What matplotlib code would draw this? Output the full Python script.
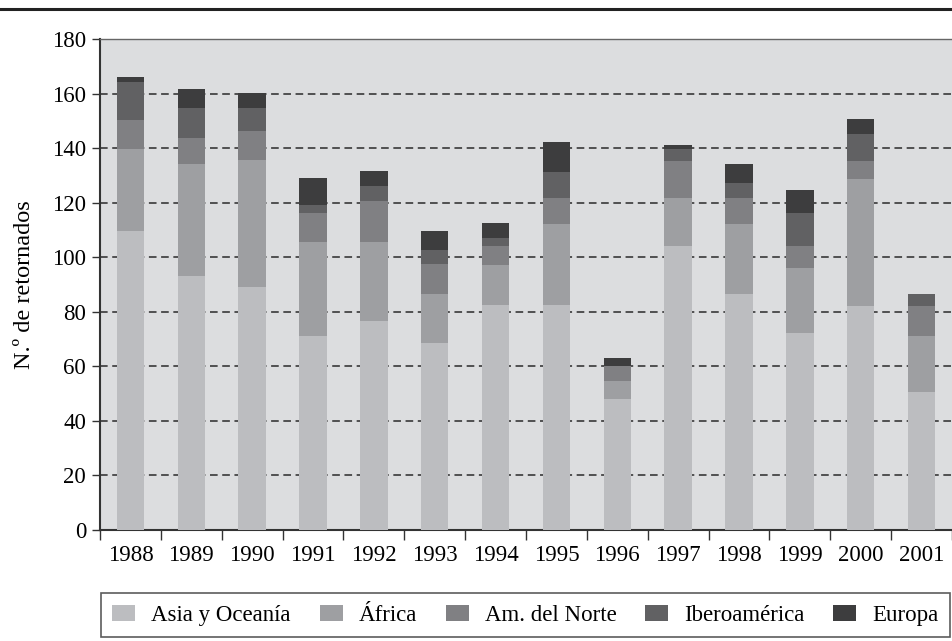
import matplotlib
matplotlib.use('Agg')
import matplotlib.pyplot as plt
import numpy as np
from matplotlib.lines import Line2D

plt.rcParams['font.family'] = ['Liberation Serif', 'DejaVu Serif']

years = ['1988', '1989', '1990', '1991', '1992', '1993', '1994',
         '1995', '1996', '1997', '1998', '1999', '2000', '2001']
series_names = ['Asia y Oceanía', 'África', 'Am. del Norte', 'Iberoamérica', 'Europa']

asia = [109.7, 93.0, 89.0, 71.3, 76.5, 68.4, 82.4, 82.4, 48.2, 104.0, 86.4, 72.4, 82.0, 50.7]
africa = [30.0, 41.2, 46.6, 34.2, 29.0, 18.0, 14.6, 29.7, 6.6, 17.7, 25.7, 23.6, 46.7, 20.6]
am_norte = [10.7, 9.6, 10.6, 10.7, 15.1, 11.0, 7.0, 9.6, 5.5, 13.6, 9.6, 8.0, 6.6, 10.7]
iberoamerica = [14.0, 11.0, 8.5, 2.9, 5.5, 5.2, 3.0, 9.6, 0.0, 4.4, 5.5, 12.2, 9.9, 4.4]
europa = [1.5, 7.0, 5.5, 9.9, 5.5, 7.0, 5.5, 11.0, 2.9, 1.5, 7.0, 8.4, 5.5, 0.0]

colors = ['#bcbdc0', '#9e9fa2', '#808083', '#616163', '#3d3d3e']
y_ticks = [0, 20, 40, 60, 80, 100, 120, 140, 160, 180]

fig = plt.figure(figsize=(9.53, 6.41), dpi=100)
ax = fig.add_axes([100 / 953, 1 - 530 / 641, 852 / 953, 491 / 641])
ax.set_facecolor('#dcdddf')

x = np.arange(len(years))
bottom = np.zeros(len(years))
handles = []
for name, vals, c in zip(series_names, [asia, africa, am_norte, iberoamerica, europa], colors):
    b = ax.bar(x, vals, 0.45, bottom=bottom, color=c, label=name, zorder=3)
    bottom += np.array(vals)
    handles.append(b)

ax.set_xlim(-0.5, len(years) - 0.5)
ax.set_ylim(0, 180)
ax.set_yticks(y_ticks)
ax.tick_params(axis='y', labelsize=16.5, length=6, width=1, color='#333333', pad=4)

ax.set_xticks(x)
ax.set_xticklabels(years)
ax.set_xticks(np.arange(-0.5, len(years) - 0.4, 1), minor=True)
ax.tick_params(axis='x', which='major', length=0, labelsize=16.5, pad=11)
ax.tick_params(axis='x', which='minor', length=7, width=1, color='#333333')

ax.set_axisbelow(True)
ax.yaxis.grid(True, color='#2a2a2a', linestyle=(0, (5, 3)), linewidth=1.1, zorder=1)

ax.spines['right'].set_visible(False)
ax.spines['top'].set_color('#666666')
ax.spines['top'].set_linewidth(1.0)
ax.spines['left'].set_color('#333333')
ax.spines['left'].set_linewidth(1.5)
ax.spines['bottom'].set_color('#333333')
ax.spines['bottom'].set_linewidth(1.5)

ax.set_ylabel('N.º de retornados', fontsize=17.5, labelpad=12)

# decorative rule at the very top
fig.add_artist(Line2D([0, 1], [1 - 8.5 / 641, 1 - 8.5 / 641], color='#222222', linewidth=2.2,
                      transform=fig.transFigure))

leg = fig.legend(handles=handles, labels=series_names, loc='lower left', ncol=5, mode='expand',
                 bbox_to_anchor=(101 / 953, 4 / 641, 849 / 953, 0.07), borderaxespad=0,
                 fontsize=16.5, frameon=True, fancybox=False, handlelength=1.0, handleheight=0.7,
                 handletextpad=0.7, borderpad=0.5, columnspacing=1.0)
leg.get_frame().set_edgecolor('#333333')
leg.get_frame().set_linewidth(1.2)

fig.savefig('out.png', dpi=100)
